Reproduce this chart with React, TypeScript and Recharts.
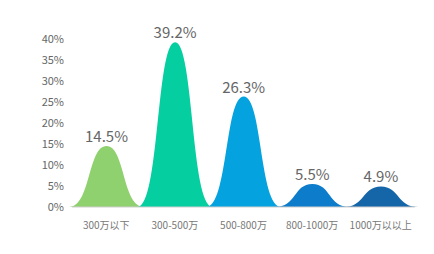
import React from 'react';
import { BarChart, Bar, XAxis, YAxis, Cell, LabelList } from 'recharts';

const categories = ['300万以下', '300-500万', '500-800万', '800-1000万', '1000万以以上'];
const shares = [14.5, 39.2, 26.3, 5.5, 4.9];
const colors = ['#8fd16f', '#05cea0', '#04a2de', '#0c7ccb', '#1565a9'];
const yTicks = [0, 5, 10, 15, 20, 25, 30, 35, 40];

const data = categories.map((name, i) => ({ name, value: shares[i] }));

// bell shaped mark, a little wider than its band so the feet overlap
const Bell = (props: any) => {
    const { x, y, width, height, fill } = props;
    if (!height) return null;
    const ext = 3;
    const x0 = x - ext;
    const w = width + ext * 2;
    const xc = x + width / 2;
    const yb = y + height;
    const d = `M${x0},${yb} C${x0 + w * 0.29},${yb} ${x0 + w * 0.25},${y} ${xc},${y}`
        + ` C${x0 + w * 0.75},${y} ${x0 + w * 0.71},${yb} ${x0 + w},${yb} Z`;
    return <path d={d} fill={fill} />;
};

export default function App() {
    return (
        <div style={{ position: 'absolute', left: 0, top: 0, fontFamily: '"Noto Sans CJK SC", "Liberation Sans", sans-serif' }}>
            <BarChart
                width={434}
                height={254}
                data={data}
                margin={{ top: 39, right: 19, left: 0, bottom: 0 }}
                barCategoryGap={0}
            >
                <XAxis
                    dataKey="name"
                    height={47}
                    tickLine={false}
                    tickMargin={9}
                    axisLine={{ stroke: '#cfcfcf' }}
                    tick={{ fill: '#777', fontSize: 10 }}
                    interval={0}
                />
                <YAxis
                    width={72}
                    domain={[0, 40]}
                    ticks={yTicks}
                    tickFormatter={(v: number) => `${v}%`}
                    tickLine={false}
                    axisLine={false}
                    tick={{ fill: '#666', fontSize: 11 }}
                />
                <Bar dataKey="value" shape={<Bell />} isAnimationActive={false}>
                    {data.map((d, i) => (
                        <Cell key={d.name} fill={colors[i]} />
                    ))}
                    <LabelList
                        dataKey="value"
                        position="top"
                        offset={4}
                        formatter={(v: number) => `${v}%`}
                        style={{ fill: '#666', fontSize: 15 }}
                    />
                </Bar>
            </BarChart>
        </div>
    );
}
